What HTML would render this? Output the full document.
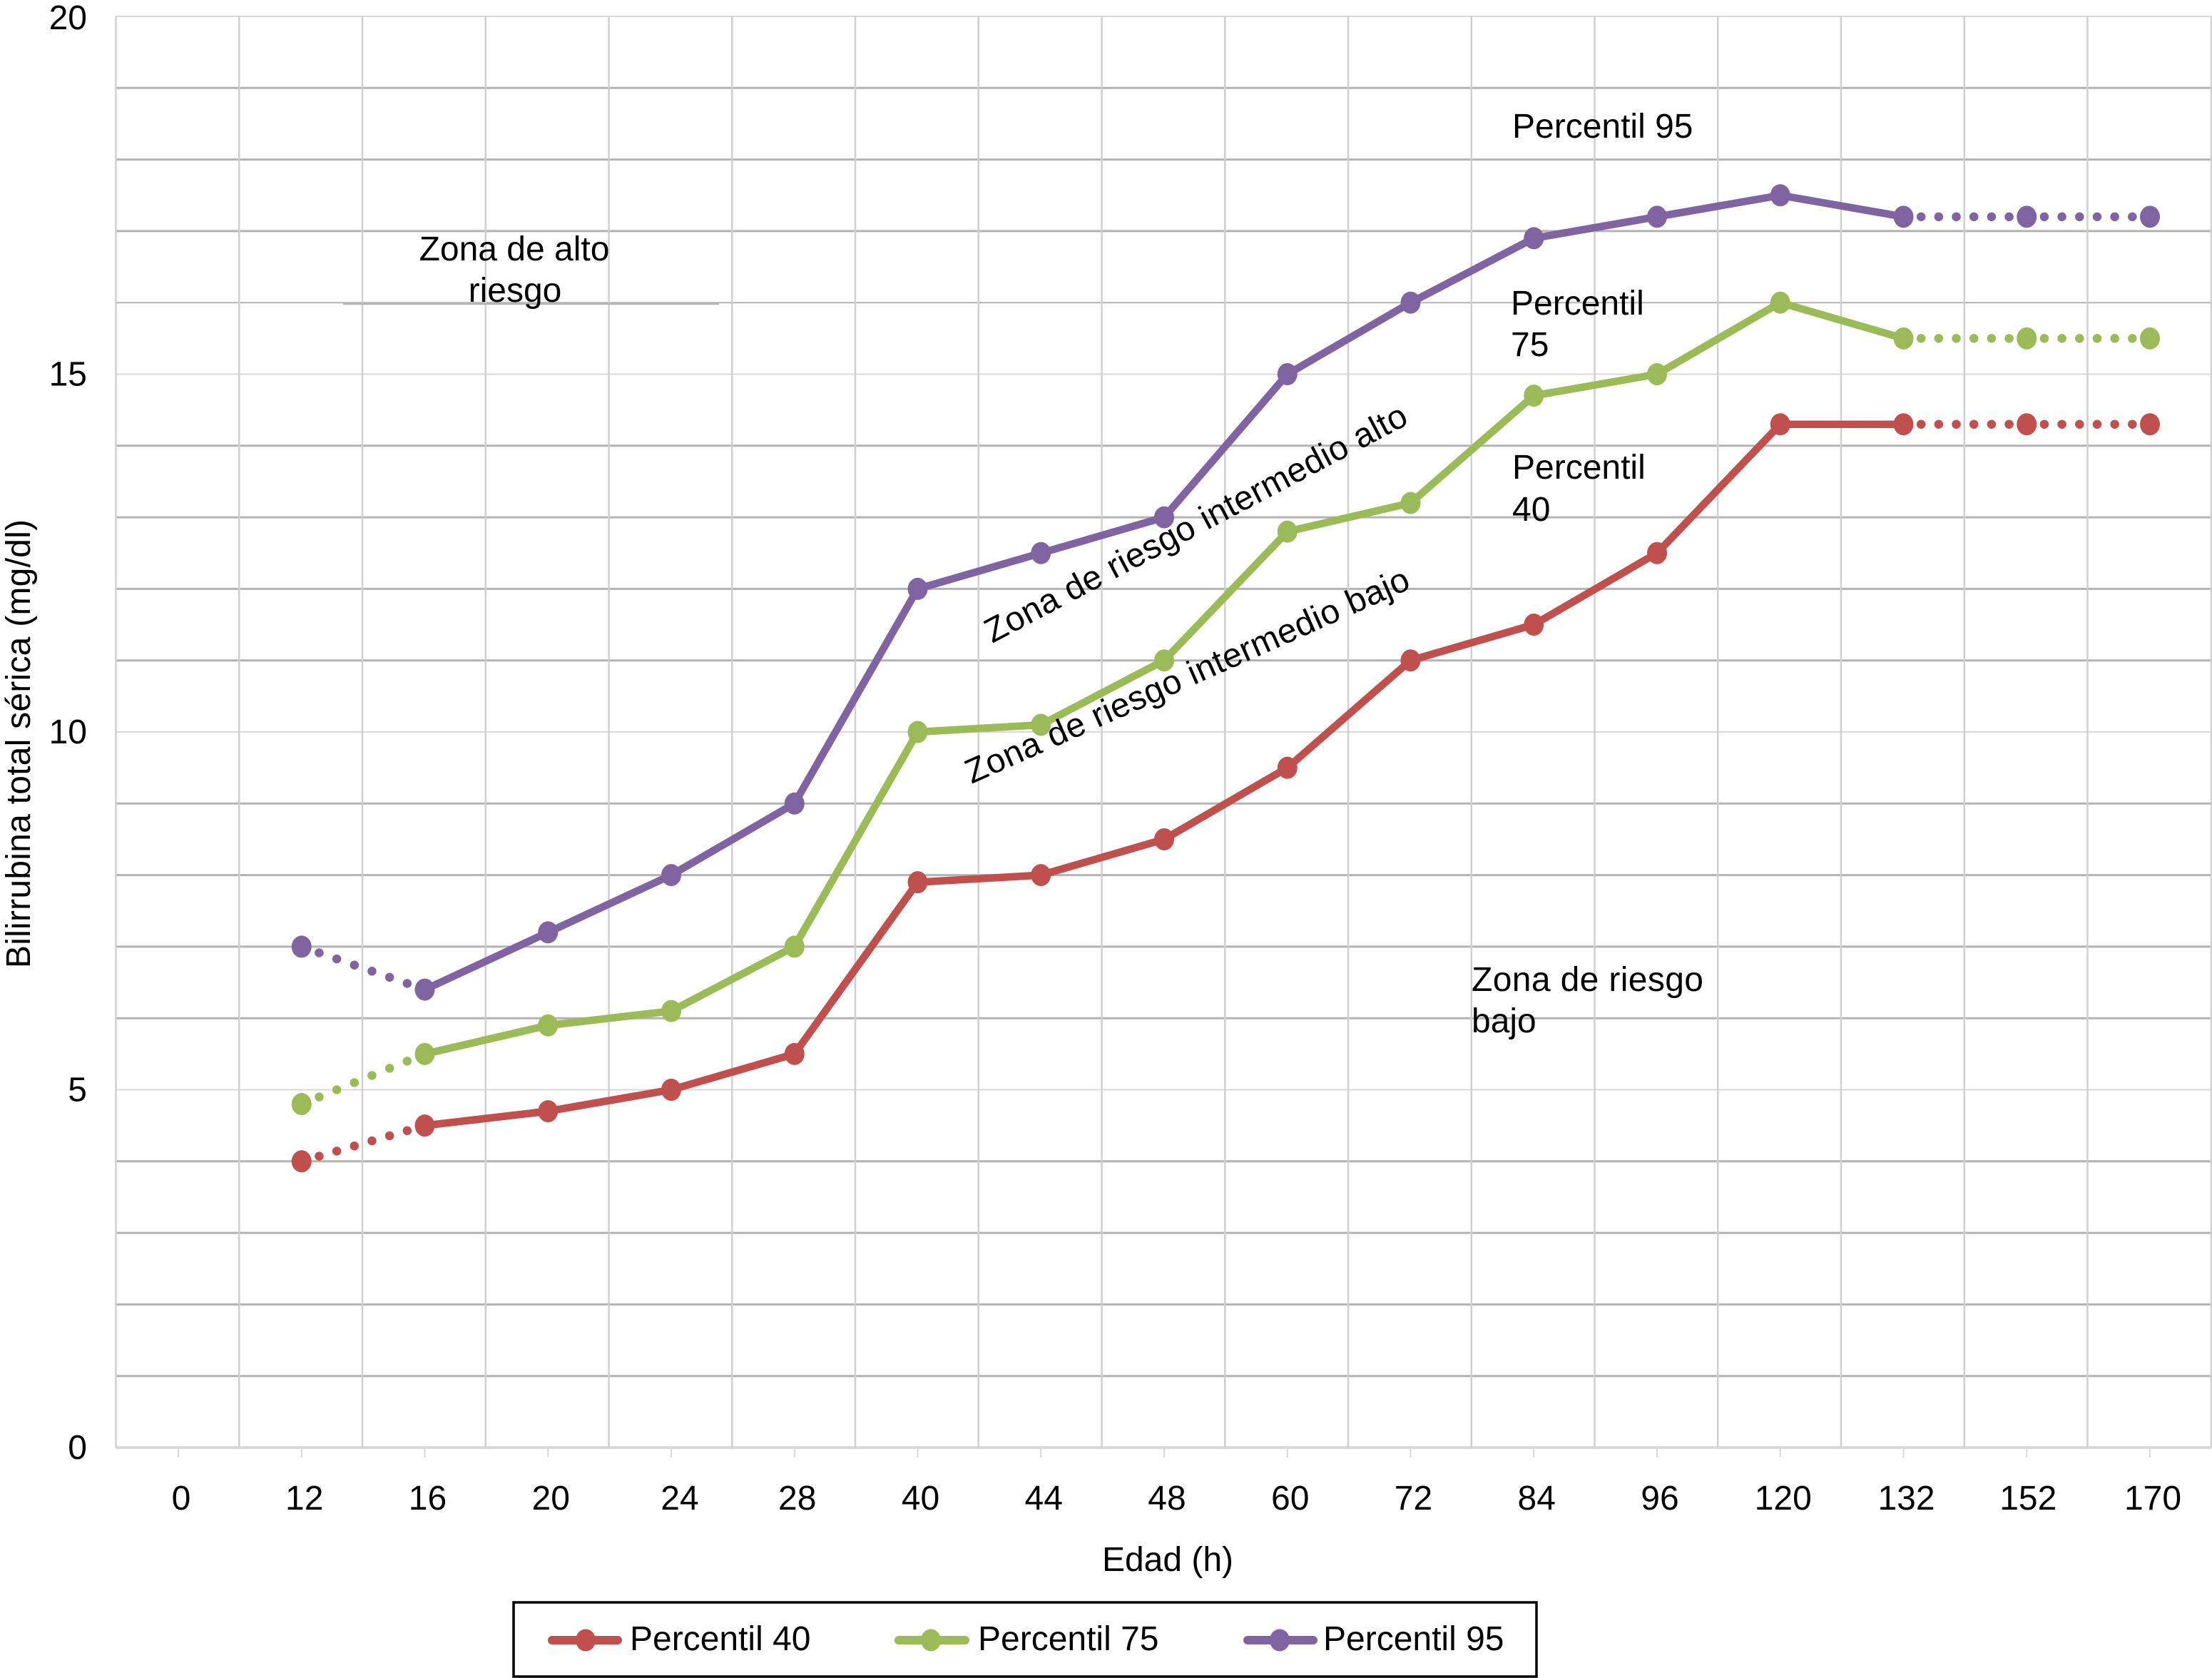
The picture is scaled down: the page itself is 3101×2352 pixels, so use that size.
<!DOCTYPE html>
<html lang="es">
<head>
<meta charset="utf-8">
<title>Bilirrubina total sérica por edad</title>
<style>
  html, body { margin: 0; padding: 0; background: #fff; }
  svg { display: block; }
  text { font-family: "Liberation Sans", sans-serif; font-size: 48px; fill: #000; }
</style>
</head>
<body>
<svg id="chart" xmlns="http://www.w3.org/2000/svg" width="3101" height="2352" viewBox="0 0 3101 2352">
  <rect x="0" y="0" width="3101" height="2352" fill="#fff"/>
  <g id="grid"></g>
  <line x1="481" y1="426" x2="1008" y2="426" stroke="#b3b3b3" stroke-width="2.5"/>
  <g id="x-ticks"></g>
  <g id="y-labels"></g>
  <g id="x-labels"></g>
  <g id="series"></g>

  <text transform="translate(42,1357) rotate(-90)" textLength="629">Bilirrubina total sérica (mg/dl)</text>
  <text x="1637" y="2202" text-anchor="middle">Edad (h)</text>

  <text x="721" y="365" text-anchor="middle">Zona de alto</text>
  <text x="722" y="423" text-anchor="middle">riesgo</text>
  <text x="2120" y="193">Percentil 95</text>
  <text x="2118" y="441">Percentil</text>
  <text x="2118" y="499">75</text>
  <text x="2120" y="671">Percentil</text>
  <text x="2120" y="730">40</text>
  <text x="2063" y="1389" textLength="325">Zona de riesgo</text>
  <text x="2063" y="1447">bajo</text>
  <text transform="translate(1391,902) rotate(-27.8)" textLength="662">Zona de riesgo intermedio alto</text>
  <text transform="translate(1362,1099) rotate(-24)" textLength="676">Zona de riesgo intermedio bajo</text>

  <g>
    <rect x="720" y="2246" width="1434" height="104" fill="#fff" stroke="#000" stroke-width="3.5"/>
    <g>
      <line x1="774" y1="2299" x2="866" y2="2299" stroke="#c0504d" stroke-width="12" stroke-linecap="round"/>
      <ellipse cx="821" cy="2299" rx="14" ry="15.5" fill="#c0504d"/>
      <text x="883" y="2313">Percentil 40</text>
    </g>
    <g>
      <line x1="1260" y1="2299" x2="1353" y2="2299" stroke="#9bbb59" stroke-width="12" stroke-linecap="round"/>
      <ellipse cx="1305" cy="2299" rx="14" ry="15.5" fill="#9bbb59"/>
      <text x="1371" y="2313">Percentil 75</text>
    </g>
    <g>
      <line x1="1749" y1="2299" x2="1841" y2="2299" stroke="#8064a2" stroke-width="12" stroke-linecap="round"/>
      <ellipse cx="1794" cy="2299" rx="14" ry="15.5" fill="#8064a2"/>
      <text x="1855" y="2313">Percentil 95</text>
    </g>
  </g>
</svg>

<script>
const categories = ['0', '12', '16', '20', '24', '28', '40', '44', '48', '60', '72', '84', '96', '120', '132', '152', '170'];
const percentil40 = [null, 4.0, 4.5, 4.7, 5.0, 5.5, 7.9, 8.0, 8.5, 9.5, 11.0, 11.5, 12.5, 14.3, 14.3, 14.3, 14.3];
const percentil75 = [null, 4.8, 5.5, 5.9, 6.1, 7.0, 10.0, 10.1, 11.0, 12.8, 13.2, 14.7, 15.0, 16.0, 15.5, 15.5, 15.5];
const percentil95 = [null, 7.0, 6.4, 7.2, 8.0, 9.0, 12.0, 12.5, 13.0, 15.0, 16.0, 16.9, 17.2, 17.5, 17.2, 17.2, 17.2];
const yTickLabels = [0, 5, 10, 15, 20];
const yGridValues = [0, 1, 2, 3, 4, 5, 6, 7, 8, 9, 10, 11, 12, 13, 14, 15, 16, 17, 18, 19, 20];
const dottedCategories = ['12', '132', '152'];

const NS = 'http://www.w3.org/2000/svg';
function xScale(i) { return 250 + i * 172.75; }
function yScale(v) { return 2029 - v * 100.3; }
function xLabelOffset(label) {
  if (label === '24') return 12;
  if (label === '152') return 2;
  return 4;
}
function make(tag, attrs, parent) {
  const el = document.createElementNS(NS, tag);
  for (const k in attrs) el.setAttribute(k, attrs[k]);
  parent.appendChild(el);
  return el;
}

const grid = document.getElementById('grid');
yGridValues.forEach(function (v) {
  const major = v % 5 === 0;
  const el = make('line', {
    x1: 162, x2: 3100, y1: yScale(v), y2: yScale(v),
    stroke: major ? '#d9d9d9' : '#b3b3b3',
    'stroke-width': v === 0 ? 4 : (major || v === 16 ? 2 : 3)
  }, grid);
  
  
});
categories.forEach(function (c, i) {
  const el = make('line', {
    x1: 162.5 + i * 172.75, x2: 162.5 + i * 172.75, y1: yScale(20), y2: yScale(0),
    stroke: '#d0d0d0', 'stroke-width': 2.5
  }, grid);
  
  
});
const rightEdge = make('line', {
  x1: 3100, x2: 3100, y1: yScale(20), y2: yScale(0), stroke: '#d0d0d0', 'stroke-width': 2.5
}, grid);



const xTicks = document.getElementById('x-ticks');
const xLabels = document.getElementById('x-labels');
categories.forEach(function (c, i) {
  const tick = make('line', {
    x1: xScale(i), x2: xScale(i), y1: yScale(0), y2: yScale(0) + 14, stroke: '#d9d9d9', 'stroke-width': 2
  }, xTicks);
  
  
  const label = make('text', { x: xScale(i) + xLabelOffset(c), y: 2116, 'text-anchor': 'middle' }, xLabels);
  
  
  label.textContent = c;
});

const yLabels = document.getElementById('y-labels');
yTickLabels.forEach(function (v) {
  const label = make('text', { x: 122, y: yScale(v) + (v === 20 ? 18 : 16), 'text-anchor': 'end' }, yLabels);
  
  
  label.textContent = v;
});

const seriesRoot = document.getElementById('series');
function drawSeries(values, color, name) {
  const g = make('g', {}, seriesRoot);
  
  
  for (let i = 0; i < values.length - 1; i++) {
    if (values[i] === null || values[i + 1] === null) continue;
    const x1 = xScale(i), y1 = yScale(values[i]), x2 = xScale(i + 1), y2 = yScale(values[i + 1]);
    const dotted = dottedCategories.indexOf(categories[i]) !== -1;
    const attrs = { x1: x1, y1: y1, x2: x2, y2: y2, stroke: color };
    if (dotted) {
      attrs['stroke-width'] = 12.5;
      attrs['stroke-linecap'] = 'round';
      attrs['stroke-dasharray'] = '0 ' + (Math.hypot(x2 - x1, y2 - y1) / 7);
    } else {
      attrs['stroke-width'] = 10.5;
    }
    const seg = make('line', attrs, g);
    
    
  }
  values.forEach(function (v, i) {
    if (v === null) return;
    const pt = make('ellipse', { cx: xScale(i), cy: yScale(v), rx: 14, ry: 15.5, fill: color }, g);
    
    
  });
}
drawSeries(percentil40, '#c0504d', 'percentil-40');
drawSeries(percentil75, '#9bbb59', 'percentil-75');
drawSeries(percentil95, '#8064a2', 'percentil-95');
</script>
</body>
</html>
